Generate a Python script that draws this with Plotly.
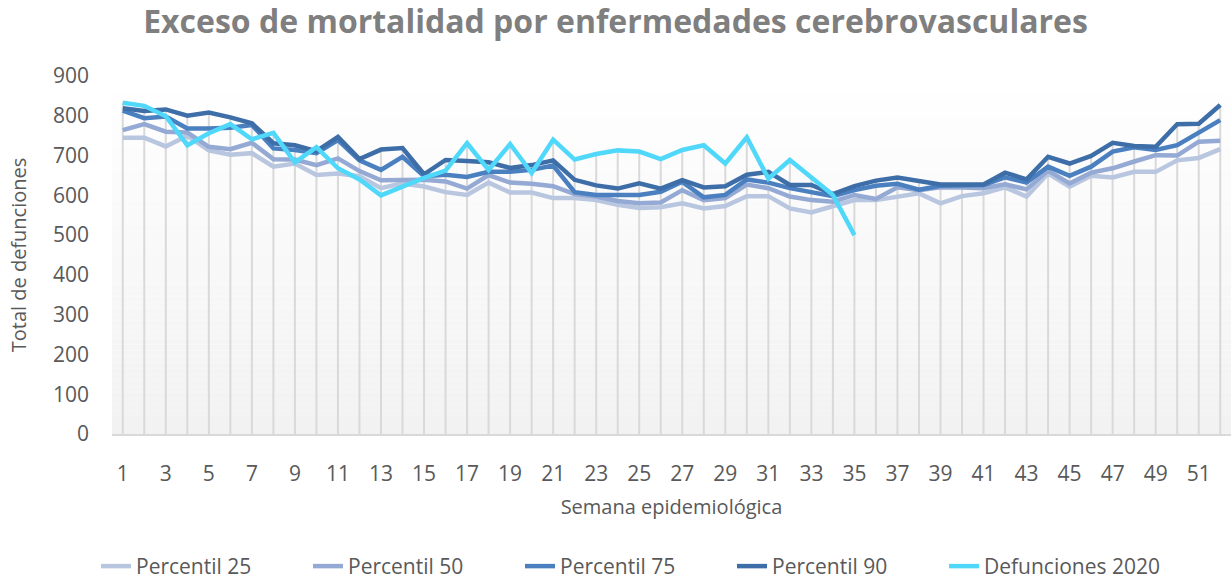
import plotly.graph_objects as go

# Semana epidemiológica
semanas = list(range(1, 53))
tick_semanas = list(range(1, 53, 2))

# Percentiles históricos de defunciones semanales
percentil_25 = [745, 745, 723, 750, 713, 702, 706, 672, 680, 651,
                655, 648, 618, 630, 622, 608, 601, 632, 607, 607,
                593, 593, 588, 576, 568, 570, 580, 567, 573, 598,
                598, 567, 557, 572, 588, 588, 597, 605, 580, 598,
                605, 620, 597, 655, 622, 649, 645, 659, 659, 688,
                694, 716]
percentil_50 = [764, 779, 760, 758, 722, 716, 732, 691, 690, 676,
                693, 661, 638, 638, 639, 635, 617, 651, 632, 629,
                623, 603, 597, 586, 580, 582, 613, 588, 593, 627,
                618, 597, 588, 584, 601, 591, 620, 613, 620, 620,
                618, 628, 615, 662, 630, 657, 668, 685, 701, 700,
                735, 737]
percentil_75 = [813, 794, 798, 768, 768, 770, 777, 718, 714, 706,
                739, 688, 664, 697, 648, 652, 646, 659, 659, 664,
                675, 608, 601, 602, 601, 609, 634, 595, 601, 640,
                632, 618, 609, 598, 613, 624, 629, 614, 624, 626,
                626, 645, 632, 672, 649, 672, 710, 721, 714, 726,
                756, 789]
percentil_90 = [819, 812, 816, 800, 808, 796, 781, 731, 726, 711,
                747, 691, 715, 719, 653, 689, 686, 683, 669, 676,
                688, 639, 625, 617, 630, 617, 638, 620, 623, 652,
                659, 626, 626, 603, 623, 637, 645, 636, 627, 627,
                627, 657, 640, 697, 680, 699, 732, 724, 722, 779,
                780, 827]
# Defunciones observadas en 2020 (semanas 1 a 35)
defunciones_2020 = [833, 825, 799, 726, 756, 779, 741, 757, 683, 721,
                    668, 640, 600, 622, 644, 662, 731, 664, 729, 656,
                    740, 690, 704, 713, 710, 691, 714, 726, 680, 746,
                    642, 689, 645, 601, 500]
semanas_2020 = semanas[:len(defunciones_2020)]

series = [
    ("Percentil 25", percentil_25, semanas, "#b9c6e0"),
    ("Percentil 50", percentil_50, semanas, "#94a9d3"),
    ("Percentil 75", percentil_75, semanas, "#4a80c0"),
    ("Percentil 90", percentil_90, semanas, "#3e6ea8"),
    ("Defunciones 2020", defunciones_2020, semanas_2020, "#4fd8fa"),
]

TEXT = "#595959"
FONT = "Open Sans"

fig = go.Figure()

# Líneas de caída: desde el valor máximo de cada semana hasta el eje
drop_x, drop_y = [], []
for i, s in enumerate(semanas):
    valores = [v[i] for _, v, xs, _ in series if i < len(v)]
    drop_x += [s, s, None]
    drop_y += [0, max(valores), None]
fig.add_trace(go.Scatter(x=drop_x, y=drop_y, mode="lines",
                         line=dict(color="#d9d9d9", width=2),
                         showlegend=False, hoverinfo="skip"))

for nombre, valores, xs, color in series:
    fig.add_trace(go.Scatter(x=xs, y=valores, name=nombre, mode="lines",
                             line=dict(color=color, width=4.5),
                             legendwidth=190 if nombre.startswith("Def") else None))

# Fondo degradado del área de trazado
bandas = 60
shapes = []
for k in range(bandas):
    t = k / (bandas - 1)
    c = round(242 + (255 - 242) * t)
    shapes.append(dict(type="rect", xref="paper", yref="paper",
                       x0=0, x1=1, y0=k / bandas, y1=(k + 1) / bandas,
                       fillcolor=f"rgb({c},{c},{c})", line=dict(width=0),
                       layer="below"))

fig.update_layout(
    width=1231, height=584,
    margin=dict(l=112, r=0, t=76, b=150, autoexpand=False),
    paper_bgcolor="white", plot_bgcolor="white",
    shapes=shapes,
    font=dict(family=FONT, color=TEXT),
    title=dict(text="Exceso de mortalidad por enfermedades cerebrovasculares",
               x=0.5, xanchor="center", y=0.962, yanchor="middle",
               font=dict(family=FONT, size=32, color="#7f7f7f", weight="bold")),
    xaxis=dict(range=[0.5, 52.5], tickvals=tick_semanas, showgrid=False,
               zeroline=False, showline=True, linecolor="#d9d9d9", linewidth=2,
               ticks="", ticklabelstandoff=20,
               tickfont=dict(family=FONT, size=21, color=TEXT),
               title=dict(text="Semana epidemiológica", standoff=14,
                          font=dict(family=FONT, size=20, color=TEXT))),
    yaxis=dict(range=[0, 900], dtick=100, showgrid=False, zeroline=False,
               showline=False, ticks="", ticklabelstandoff=22,
               tickfont=dict(family=FONT, size=21, color=TEXT),
               title=dict(text="Total de defunciones", standoff=20,
                          font=dict(family=FONT, size=20, color=TEXT))),
    legend=dict(orientation="h", x=-0.0143, xanchor="left",
                y=-0.37, yanchor="middle",
                entrywidth=167, entrywidthmode="pixels",
                font=dict(family=FONT, size=21, color=TEXT)),
    showlegend=True,
)

fig.write_html("out.html", config={"displayModeBar": False})
